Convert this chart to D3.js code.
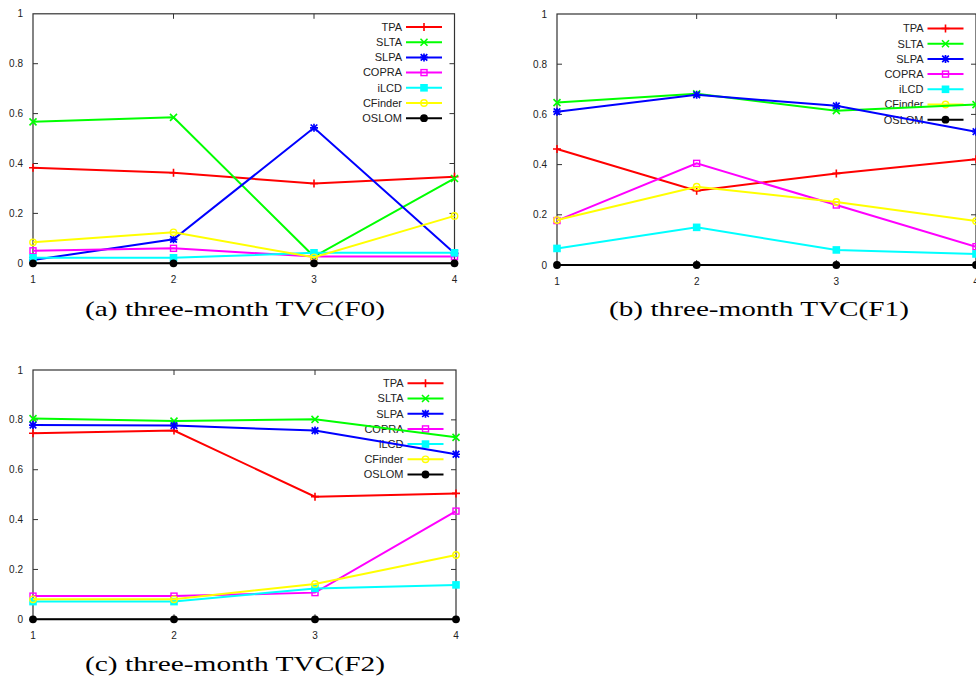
<!DOCTYPE html>
<html>
<head>
<meta charset="utf-8">
<script src="https://cdn.jsdelivr.net/npm/d3@7"></script>
<style>
  body { margin: 0; background: #fff; }
  svg text { font-family: "Liberation Sans", Arial, sans-serif; fill: #222; }
  svg text.caption { font-family: "Liberation Serif", "DejaVu Serif", serif; fill: #000; }
</style>
</head>
<body>
<div id="chart"></div>
<script>
// ---- data ----
var months = [1, 2, 3, 4]
var methods = ['TPA', 'SLTA', 'SLPA', 'COPRA', 'iLCD', 'CFinder', 'OSLOM']
var yTicks = [0, 0.2, 0.4, 0.6, 0.8, 1]

// one row per method, in the order of `methods`
var tvcF0 = [
  [0.383, 0.363, 0.320, 0.347],
  [0.567, 0.585, 0.027, 0.340],
  [0.013, 0.096, 0.543, 0.040],
  [0.050, 0.060, 0.027, 0.027],
  [0.022, 0.022, 0.042, 0.042],
  [0.084, 0.124, 0.024, 0.190],
  [0, 0, 0, 0]
]
var tvcF1 = [
  [0.462, 0.296, 0.365, 0.421],
  [0.647, 0.682, 0.615, 0.639],
  [0.611, 0.678, 0.634, 0.531],
  [0.177, 0.405, 0.239, 0.073],
  [0.066, 0.150, 0.060, 0.044],
  [0.179, 0.312, 0.251, 0.175],
  [0, 0, 0, 0]
]
var tvcF2 = [
  [0.746, 0.757, 0.492, 0.505],
  [0.805, 0.795, 0.802, 0.730],
  [0.779, 0.777, 0.757, 0.662],
  [0.093, 0.093, 0.107, 0.434],
  [0.071, 0.071, 0.124, 0.138],
  [0.080, 0.080, 0.142, 0.258],
  [0, 0, 0, 0]
]
var captions = ['(a) three-month TVC(F0)', '(b) three-month TVC(F1)', '(c) three-month TVC(F2)']

// ---- styles ----
var colors = ['#ff0000', '#00ff00', '#0000ff', '#ff00ff', '#00ffff', '#ffff00', '#000000']
var markers = ['plus', 'cross', 'star', 'box', 'boxFilled', 'circle', 'circleFilled']

// panel frames in page pixels
var panels = [
  {values: tvcF0, caption: captions[0], left: 33, right: 454.5, bottom: 263.3, top: 13.8, legendTop: 27, capX: 235, capY: 316},
  {values: tvcF1, caption: captions[1], left: 557, right: 976, bottom: 265, top: 14, legendTop: 28.5, capX: 759, capY: 316},
  {values: tvcF2, caption: captions[2], left: 33, right: 456, bottom: 619.3, top: 370, legendTop: 383.3, capX: 235, capY: 671}
]

var svg = d3.select('#chart').append('svg')
  .attr('width', 976).attr('height', 679)

//draw one gnuplot style marker at (0,0) inside g
function drawMarker(g, type, clr){
  var s = 4
  if(type == 'plus'){
    g.append('path').attr('d', 'M' + (-s) + ',0H' + s + 'M0,' + (-s) + 'V' + s)
      .attr('stroke', clr).attr('stroke-width', 1.6).attr('fill', 'none')
  }else if(type == 'cross'){
    g.append('path').attr('d', 'M-3.5,-3.5L3.5,3.5M-3.5,3.5L3.5,-3.5')
      .attr('stroke', clr).attr('stroke-width', 1.6).attr('fill', 'none')
  }else if(type == 'star'){
    g.append('path').attr('d', 'M-4,0H4M0,-4V4M-3.3,-3.3L3.3,3.3M-3.3,3.3L3.3,-3.3')
      .attr('stroke', clr).attr('stroke-width', 1.7).attr('fill', 'none')
  }else if(type == 'box'){
    g.append('rect').attr('x', -3).attr('y', -3).attr('width', 6).attr('height', 6)
      .attr('stroke', clr).attr('stroke-width', 1.4).attr('fill', 'none')
  }else if(type == 'boxFilled'){
    g.append('rect').attr('x', -3.8).attr('y', -3.8).attr('width', 7.6).attr('height', 7.6)
      .attr('fill', clr)
  }else if(type == 'circle'){
    g.append('circle').attr('r', 3.2)
      .attr('stroke', clr).attr('stroke-width', 1.4).attr('fill', 'none')
  }else{
    g.append('circle').attr('r', 3.9).attr('fill', clr)
  }
}

panels.forEach(function(p){
  var x = d3.scaleLinear().domain([1, 4]).range([p.left, p.right])
  var y = d3.scaleLinear().domain([0, 1]).range([p.bottom, p.top])
  var g = svg.append('g')

  // frame
  g.append('rect')
    .attr('x', p.left).attr('y', p.top)
    .attr('width', p.right - p.left).attr('height', p.bottom - p.top)
    .attr('fill', 'none').attr('stroke', '#333').attr('stroke-width', 1.2)

  // ticks, pointing inwards on all four sides
  var ax = g.append('g').attr('class', 'ticks')
  yTicks.forEach(function(v){
    if(v > 0 && v < 1){
      ax.append('line').attr('x1', p.left).attr('x2', p.left + 5)
        .attr('y1', y(v)).attr('y2', y(v)).attr('stroke', '#333')
      ax.append('line').attr('x1', p.right - 5).attr('x2', p.right)
        .attr('y1', y(v)).attr('y2', y(v)).attr('stroke', '#333')
    }
    ax.append('text')
      .attr('x', p.left - 10).attr('y', y(v)).attr('dy', '0.35em')
      .attr('text-anchor', 'end').style('font-size', '10px')
      .text(d3.format('~g')(v))
  })
  months.forEach(function(m){
    if(m > 1 && m < 4){
      ax.append('line').attr('x1', x(m)).attr('x2', x(m))
        .attr('y1', p.bottom).attr('y2', p.bottom - 5).attr('stroke', '#333')
      ax.append('line').attr('x1', x(m)).attr('x2', x(m))
        .attr('y1', p.top).attr('y2', p.top + 5).attr('stroke', '#333')
    }
    ax.append('text')
      .attr('x', x(m)).attr('y', p.bottom + 20)
      .attr('text-anchor', 'middle').style('font-size', '10px')
      .text(m)
  })

  // key
  var key = g.append('g').attr('class', 'key')
  methods.forEach(function(name, i){
    var ky = p.legendTop + i * 15.2
    var kx = p.right - 12.5
    key.append('text')
      .attr('x', kx - 40).attr('y', ky).attr('dy', '0.35em')
      .attr('text-anchor', 'end').style('font-size', '11px')
      .text(name)
    key.append('line')
      .attr('x1', kx - 36).attr('x2', kx)
      .attr('y1', ky).attr('y2', ky)
      .attr('stroke', colors[i]).attr('stroke-width', 2)
    drawMarker(key.append('g').attr('transform', 'translate(' + (kx - 18) + ',' + ky + ')'), markers[i], colors[i])
  })

  // series
  var line = d3.line().x(function(d, j){ return x(months[j]) }).y(function(d){ return y(d) })
  p.values.forEach(function(vals, i){
    var sg = g.append('g').attr('class', 'series')
    sg.append('path').attr('d', line(vals))
      .attr('fill', 'none').attr('stroke', colors[i]).attr('stroke-width', 2)
    vals.forEach(function(v, j){
      drawMarker(sg.append('g').attr('transform', 'translate(' + x(months[j]) + ',' + y(v) + ')'), markers[i], colors[i])
    })
  })

  // caption
  g.append('text').attr('class', 'caption')
    .attr('x', p.capX).attr('y', p.capY)
    .attr('text-anchor', 'middle').style('font-size', '22px')
    .attr('textLength', 300).attr('lengthAdjust', 'spacingAndGlyphs')
    .text(p.caption)
})
</script>
</body>
</html>
